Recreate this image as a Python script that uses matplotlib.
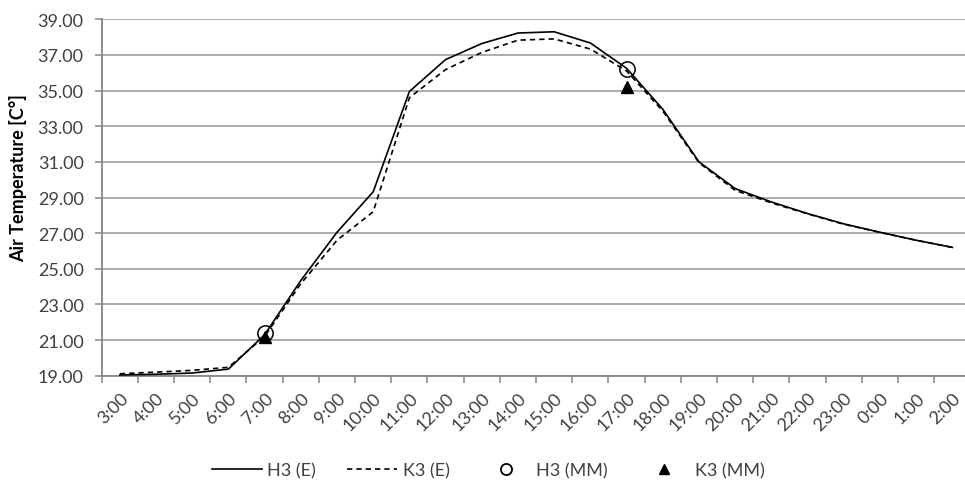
import numpy as np
import matplotlib
matplotlib.use("Agg")
import matplotlib.pyplot as plt
from matplotlib.lines import Line2D

plt.rcParams['font.family'] = ['Lato', 'DejaVu Sans']

hours = ["3:00", "4:00", "5:00", "6:00", "7:00", "8:00", "9:00", "10:00",
         "11:00", "12:00", "13:00", "14:00", "15:00", "16:00", "17:00",
         "18:00", "19:00", "20:00", "21:00", "22:00", "23:00", "0:00",
         "1:00", "2:00"]

h3_e = [19.04, 19.08, 19.15, 19.37, 21.30, 24.34, 27.05, 29.32,
        34.95, 36.74, 37.64, 38.23, 38.30, 37.67, 36.25,
        33.95, 31.00, 29.50, 28.75, 28.10, 27.52, 27.05, 26.60, 26.20]

k3_e = [19.11, 19.20, 19.30, 19.47, 21.20, 24.16, 26.60, 28.20,
        34.60, 36.18, 37.14, 37.83, 37.90, 37.33, 36.10,
        33.85, 30.95, 29.40, 28.70, 28.08, 27.50, 27.04, 26.60, 26.20]

mm_hours = ["7:00", "17:00"]
h3_mm = [21.40, 36.20]
k3_mm = [21.15, 35.20]

y_ticks = np.arange(19, 39.01, 2)

W, H = 965, 485
fig = plt.figure(figsize=(W / 100, H / 100), dpi=100)
ax = fig.add_axes([101.7 / W, 1 - 376.7 / H, (970.5 - 101.7) / W, (376.7 - 20.3) / H])

x = np.arange(len(hours))
mm_x = [hours.index(h) for h in mm_hours]

grid_c = "#a6a6a6"
axis_c = "#868686"
text_c = "#404040"

ax.plot(x, h3_e, color="black", lw=1.2, solid_joinstyle="miter", zorder=3)
ax.plot(x, k3_e, color="black", lw=1.2, dashes=(3.2, 2.4), zorder=3)
ax.plot(mm_x, h3_mm, ls="none", marker="o", ms=11, mfc="none", mec="black", mew=1.1, zorder=4)
ax.plot(mm_x, k3_mm, ls="none", marker="^", ms=9, mfc="black", mec="black", zorder=4)

ax.set_xlim(-0.5, len(hours) - 0.5)
ax.set_ylim(19, 39)

ax.set_yticks(y_ticks)
ax.set_yticklabels([f"{v:.2f}" for v in y_ticks])
ax.yaxis.grid(True, color=grid_c, lw=1.3)
ax.set_axisbelow(True)

ax.set_xticks(x)
ax.set_xticklabels(hours, rotation=45, ha="right", va="top", rotation_mode="anchor")
ax.set_xticks(np.arange(-0.5, len(hours), 1), minor=True)
ax.tick_params(axis="x", which="major", length=0, pad=10, labelsize=13, colors=text_c)
ax.tick_params(axis="x", which="minor", length=5, width=1.1, color=axis_c)
ax.tick_params(axis="y", which="major", length=5, width=1.1, color=axis_c, labelsize=13,
               labelcolor=text_c, pad=8)

for side in ("top", "right"):
    ax.spines[side].set_visible(False)
for side in ("left", "bottom"):
    ax.spines[side].set_color(axis_c)
    ax.spines[side].set_linewidth(1.3)

fig.text(18 / W, 1 - 178 / H, "Air Temperature [C°]", rotation=90, ha="center", va="center",
         fontsize=13, fontweight="bold", color="black")

handles = [
    Line2D([], [], color="black", lw=1.2),
    Line2D([], [], color="black", lw=1.2, dashes=(3.2, 2.4)),
    Line2D([], [], ls="none", marker="o", ms=8, mfc="none", mec="black", mew=1.3),
    Line2D([], [], ls="none", marker="^", ms=7.5, mfc="black", mec="black"),
]
labels = ["H3 (E)", "K3 (E)", "H3 (MM)", "K3 (MM)"]
fig.legend(handles, labels, loc="center", bbox_to_anchor=(488 / W, 1 - 471 / H), ncol=4,
           frameon=False, fontsize=13, handlelength=2.8, columnspacing=1.7, handletextpad=0.3,
           labelcolor=text_c, borderpad=0.2)

fig.savefig("out.png", dpi=100)
